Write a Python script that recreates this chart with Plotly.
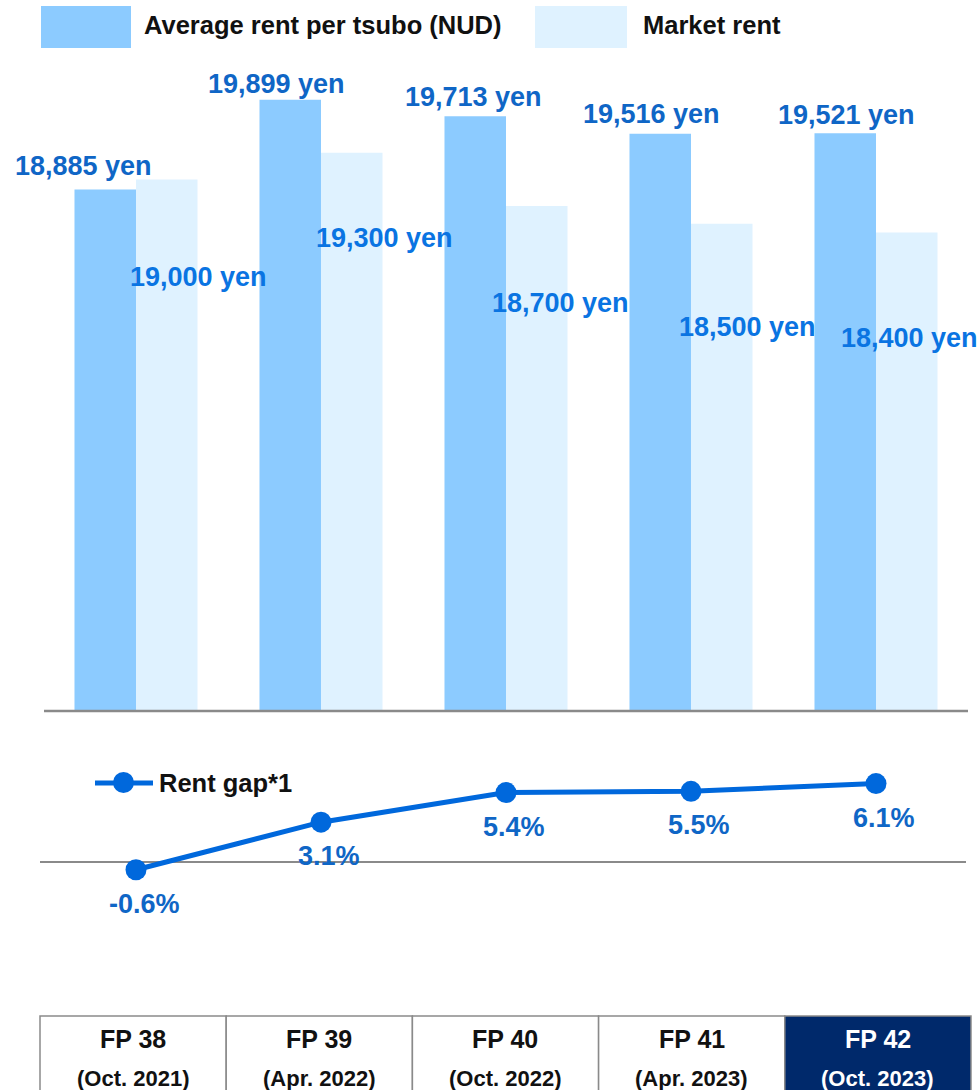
import plotly.graph_objects as go

# ---- data ----
periods = ["FP 38", "FP 39", "FP 40", "FP 41", "FP 42"]
period_dates = ["(Oct. 2021)", "(Apr. 2022)", "(Oct. 2022)", "(Apr. 2023)", "(Oct. 2023)"]
avg_rent = [18885, 19899, 19713, 19516, 19521]
market_rent = [19000, 19300, 18700, 18500, 18400]
rent_gap = [-0.6, 3.1, 5.4, 5.5, 6.1]

# ---- styling ----
W, H = 980, 1090
FONT = "Liberation Sans, Arial, sans-serif"
AVG_COLOR = "#8CCBFF"
MKT_COLOR = "#DFF2FF"
LINE_COLOR = "#0068DC"
AVG_LABEL = "#0F66C6"
MKT_LABEL = "#0A74E2"
GRID_GRAY = "#8A8A8A"
NAVY = "#00296B"

# label offsets in pixels (x from category centre, y from bar top)
avg_label_dx = [-53, -45, -33, -40, -30]
avg_label_dy = [24, 16, 19, 20, 18]
mkt_label_dx = [62, 63, 54, 56, 33]
mkt_label_dy = [-98, -85, -97, -103, -105]


def px_x(x):
    return x / W


def px_y(y):
    return 1 - y / H


fig = go.Figure()

fig.add_trace(go.Bar(
    x=periods, y=avg_rent, name="Average rent per tsubo (NUD)",
    marker=dict(color=AVG_COLOR, line=dict(width=0)),
    xaxis="x", yaxis="y", showlegend=False, hoverinfo="skip",
))
fig.add_trace(go.Bar(
    x=periods, y=market_rent, name="Market rent",
    marker=dict(color=MKT_COLOR, line=dict(width=0)),
    xaxis="x", yaxis="y", showlegend=False, hoverinfo="skip",
))
fig.add_trace(go.Scatter(
    x=periods, y=rent_gap, name="Rent gap*1", mode="lines+markers",
    line=dict(color=LINE_COLOR, width=5),
    marker=dict(color=LINE_COLOR, size=21),
    xaxis="x", yaxis="y2", showlegend=False, hoverinfo="skip",
))

annotations = []
shapes = []

# value labels for the bars
for i, p in enumerate(periods):
    annotations.append(dict(
        x=p, y=avg_rent[i], xref="x", yref="y",
        text=f"{avg_rent[i]:,} yen", showarrow=False,
        xshift=avg_label_dx[i], yshift=avg_label_dy[i],
        xanchor="center", yanchor="middle",
        font=dict(family=FONT, size=27, color=AVG_LABEL),
    ))
    annotations.append(dict(
        x=p, y=market_rent[i], xref="x", yref="y",
        text=f"{market_rent[i]:,} yen", showarrow=False,
        xshift=mkt_label_dx[i], yshift=mkt_label_dy[i],
        xanchor="center", yanchor="middle",
        font=dict(family=FONT, size=27, color=MKT_LABEL),
    ))
    # rent gap labels under each point
    annotations.append(dict(
        x=p, y=rent_gap[i], xref="x", yref="y2",
        text=f"{rent_gap[i]:.1f}%", showarrow=False,
        xshift=8, yshift=-34,
        xanchor="center", yanchor="middle",
        font=dict(family=FONT, size=27, color=AVG_LABEL),
    ))

# custom legend for bars
shapes.append(dict(type="rect", xref="paper", yref="paper",
                   x0=px_x(41), x1=px_x(131), y0=px_y(48), y1=px_y(6),
                   fillcolor=AVG_COLOR, line=dict(width=0)))
annotations.append(dict(x=px_x(142), y=px_y(25), xref="paper", yref="paper",
                        text="Average rent per tsubo (NUD)", showarrow=False,
                        xanchor="left", yanchor="middle",
                        font=dict(family=FONT, size=25.5, color="#111111")))
shapes.append(dict(type="rect", xref="paper", yref="paper",
                   x0=px_x(535), x1=px_x(627), y0=px_y(48), y1=px_y(6),
                   fillcolor=MKT_COLOR, line=dict(width=0)))
annotations.append(dict(x=px_x(641), y=px_y(25), xref="paper", yref="paper",
                        text="Market rent", showarrow=False,
                        xanchor="left", yanchor="middle",
                        font=dict(family=FONT, size=25.5, color="#111111")))

# legend for the line
shapes.append(dict(type="line", xref="paper", yref="paper",
                   x0=px_x(95), x1=px_x(153), y0=px_y(783), y1=px_y(783),
                   line=dict(color=LINE_COLOR, width=5)))
shapes.append(dict(type="circle", xref="paper", yref="paper",
                   x0=px_x(113), x1=px_x(134), y0=px_y(793), y1=px_y(772),
                   fillcolor=LINE_COLOR, line=dict(width=0)))
annotations.append(dict(x=px_x(157), y=px_y(783), xref="paper", yref="paper",
                        text="Rent gap*1", showarrow=False,
                        xanchor="left", yanchor="middle",
                        font=dict(family=FONT, size=25.5, color="#111111")))

# base lines
shapes.append(dict(type="line", xref="paper", yref="paper",
                   x0=px_x(44), x1=px_x(968), y0=px_y(711), y1=px_y(711),
                   line=dict(color=GRID_GRAY, width=2.5), layer="above"))
shapes.append(dict(type="line", xref="paper", yref="paper",
                   x0=px_x(40), x1=px_x(966), y0=px_y(862), y1=px_y(862),
                   line=dict(color=GRID_GRAY, width=2), layer="below"))

# period table along the bottom
col_left = 40
col_w = (971 - 40) / len(periods)
for i, p in enumerate(periods):
    x0 = col_left + i * col_w
    x1 = x0 + col_w
    last = i == len(periods) - 1
    shapes.append(dict(type="rect", xref="paper", yref="paper",
                       x0=px_x(x0), x1=px_x(x1), y0=px_y(1100), y1=px_y(1016),
                       fillcolor=NAVY if last else "white",
                       line=dict(color=GRID_GRAY, width=1.5)))
    txt_color = "white" if last else "#111111"
    annotations.append(dict(x=px_x((x0 + x1) / 2), y=px_y(1039), xref="paper", yref="paper",
                            text=p, showarrow=False, xanchor="center", yanchor="middle",
                            font=dict(family=FONT, size=25, color=txt_color)))
    annotations.append(dict(x=px_x((x0 + x1) / 2), y=px_y(1078), xref="paper", yref="paper",
                            text=period_dates[i], showarrow=False, xanchor="center", yanchor="middle",
                            font=dict(family=FONT, size=22, color=txt_color)))

# axis geometry
bar_base, bar_top_px = 711, 60
yen_per_px = 1 / 0.0886
y_min = 13000
y_max = y_min + (bar_base - bar_top_px) * yen_per_px

gap_zero, gap_top, gap_bot = 862, 740, 1000
pct_per_px = 1 / 12.85

fig.update_layout(
    width=W, height=H,
    margin=dict(l=0, r=0, t=0, b=0),
    paper_bgcolor="white", plot_bgcolor="rgba(0,0,0,0)",
    barmode="group", bargap=0.335, bargroupgap=0,
    font=dict(family=FONT, size=25, color="#111111"),
    xaxis=dict(domain=[px_x(43.5), px_x(968.5)], range=[-0.5, len(periods) - 0.5],
               showticklabels=False, showgrid=False, zeroline=False, showline=False,
               ticks="", fixedrange=True, anchor="y"),
    yaxis=dict(domain=[px_y(bar_base), px_y(bar_top_px)],
               range=[y_min, y_max], visible=False, fixedrange=True),
    yaxis2=dict(domain=[px_y(gap_bot), px_y(gap_top)],
                range=[-(gap_bot - gap_zero) * pct_per_px, (gap_zero - gap_top) * pct_per_px],
                visible=False, fixedrange=True, anchor="x"),
    annotations=annotations,
    shapes=shapes,
    showlegend=False,
)

# make all label text bold
for a in fig.layout.annotations:
    a.text = f"<b>{a.text}</b>"

fig.write_html("out.html", config={"displayModeBar": False})
